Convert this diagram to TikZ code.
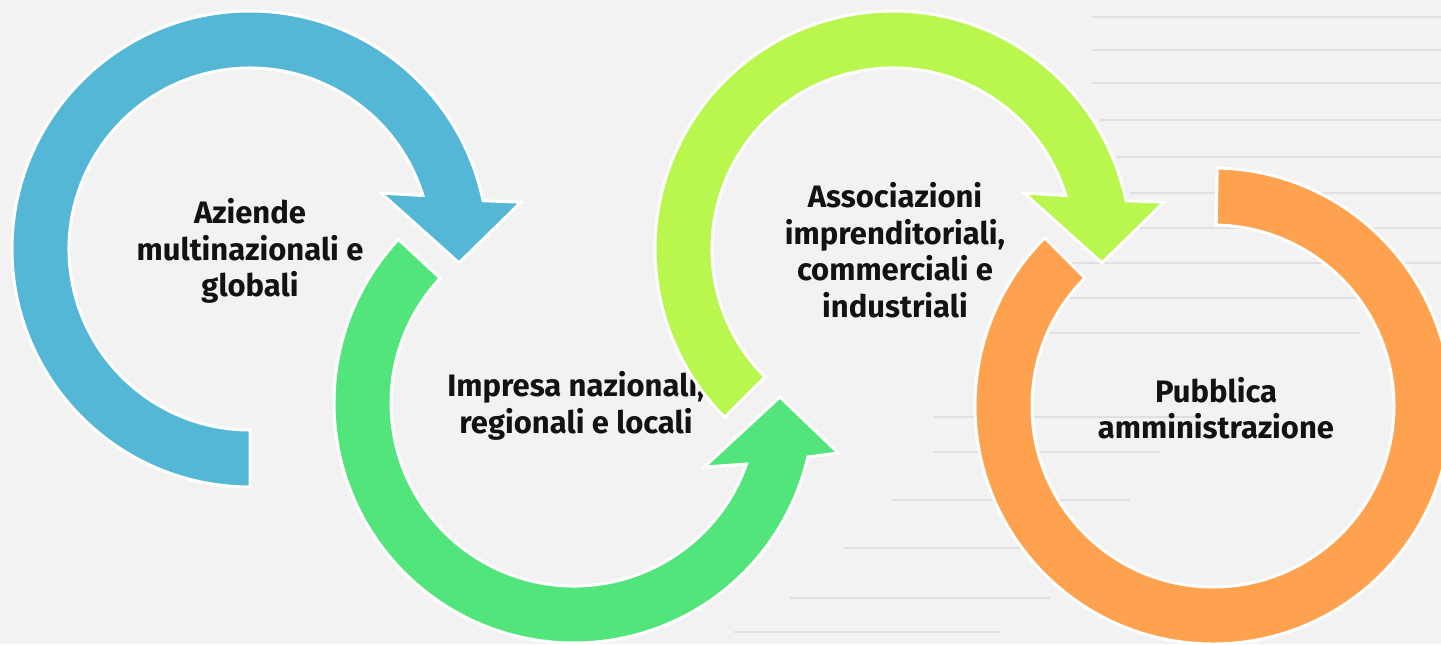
\documentclass[tikz,border=0pt]{standalone}
\usepackage{fontspec}
\setmainfont{Fira Sans}
\usepackage{tikz}

\definecolor{bgGray}{RGB}{242,242,242}
\definecolor{stairGray}{RGB}{224,224,224}
\definecolor{ringBlue}{RGB}{84,183,214}
\definecolor{ringGreen}{RGB}{82,229,124}
\definecolor{ringLime}{RGB}{185,247,79}
\definecolor{ringOrange}{RGB}{255,162,80}

\tikzset{
  ring/.style={draw=white, line width=1.5pt, line join=miter},
  stairline/.style={draw=stairGray, line width=0.6pt},
  lbl/.style={align=center, inner sep=0.75pt, text={black!93},
    font=\fontsize{15.5}{18.3}\selectfont\bfseries}
}

\begin{document}
\begin{tikzpicture}[x=0.5pt,y=0.5pt,yscale=-1,xscale=1]
    %set diagram from (0,0) to (1441,644)
    \fill[bgGray] (0,0) rectangle (1441,644);
    \useasboundingbox (0,0) rectangle (1441,644);

    %Background stairs
    \draw[stairline] (1092,17) -- (1441,17);
    \draw[stairline] (1092,50) -- (1441,50);
    \draw[stairline] (1092,83) -- (1441,83);
    \draw[stairline] (1100,120) -- (1441,120);
    \draw[stairline] (1117,157) -- (1441,157);
    \draw[stairline] (1130,193) -- (1441,193);
    \draw[stairline] (1060,228) -- (1441,228);
    \draw[stairline] (1050,263) -- (1441,263);
    \draw[stairline] (1040,298) -- (1400,298);
    \draw[stairline] (1010,333) -- (1360,333);
    \draw[stairline] (933,417) -- (1200,417);
    \draw[stairline] (933,452) -- (1160,452);
    \draw[stairline] (892,500) -- (1130,500);
    \draw[stairline] (844,548) -- (1100,548);
    \draw[stairline] (790,598) -- (1050,598);
    \draw[stairline] (734,632) -- (1000,632);

    %Shape: Circular Arrow (blue)
    \begin{scope}[shift={(250,249)}]
    \filldraw[ring, fill=ringBlue] (90:238) arc[start angle=90, end angle=348.3, radius=238] -- (350.2:275) -- (3.8:209.5) -- (336.9:142.5) -- (342.8:181) arc[start angle=342.8, end angle=90, radius=181] -- cycle;
    \end{scope}
    %Shape: Circular Arrow (green)
    \begin{scope}[shift={(574,403)}]
    \filldraw[ring, fill=ringGreen] (223:240) arc[start angle=223, end angle=13, radius=240] -- (10.7:269) -- (-1.7:206) -- (26.2:145) -- (19.5:183) arc[start angle=19.5, end angle=223, radius=183] -- cycle;
    \end{scope}

    % Text Node
    \draw (250,251) node [lbl] (aziende) {Aziende\\multinazionali e\\globali};
    % Text Node
    \draw (576,406) node [lbl] (impresa) {Impresa nazionali,\\regionali e locali};

    %Shape: Circular Arrow (lime)
    \begin{scope}[shift={(893,249)}]
    \filldraw[ring, fill=ringLime] (135:238) arc[start angle=135, end angle=348.3, radius=238] -- (350.2:275) -- (3.8:209.5) -- (336.9:142.5) -- (342.8:181) arc[start angle=342.8, end angle=135, radius=181] -- cycle;
    \end{scope}
    %Shape: Open Ring (orange)
    \begin{scope}[shift={(1213,406)}]
    \filldraw[ring, fill=ringOrange] (-89:238) arc[start angle=-89, end angle=225, radius=238] -- (225:181) arc[start angle=225, end angle=-89, radius=181] -- cycle;
    \end{scope}

    % Text Node
    \draw (895,250) node [lbl] (associazioni) {Associazioni\\imprenditoriali,\\commerciali e\\industriali};
    % Text Node
    \draw (1216,408) node [lbl] (pubblica) {Pubblica\\amministrazione};
\end{tikzpicture}
\end{document}
